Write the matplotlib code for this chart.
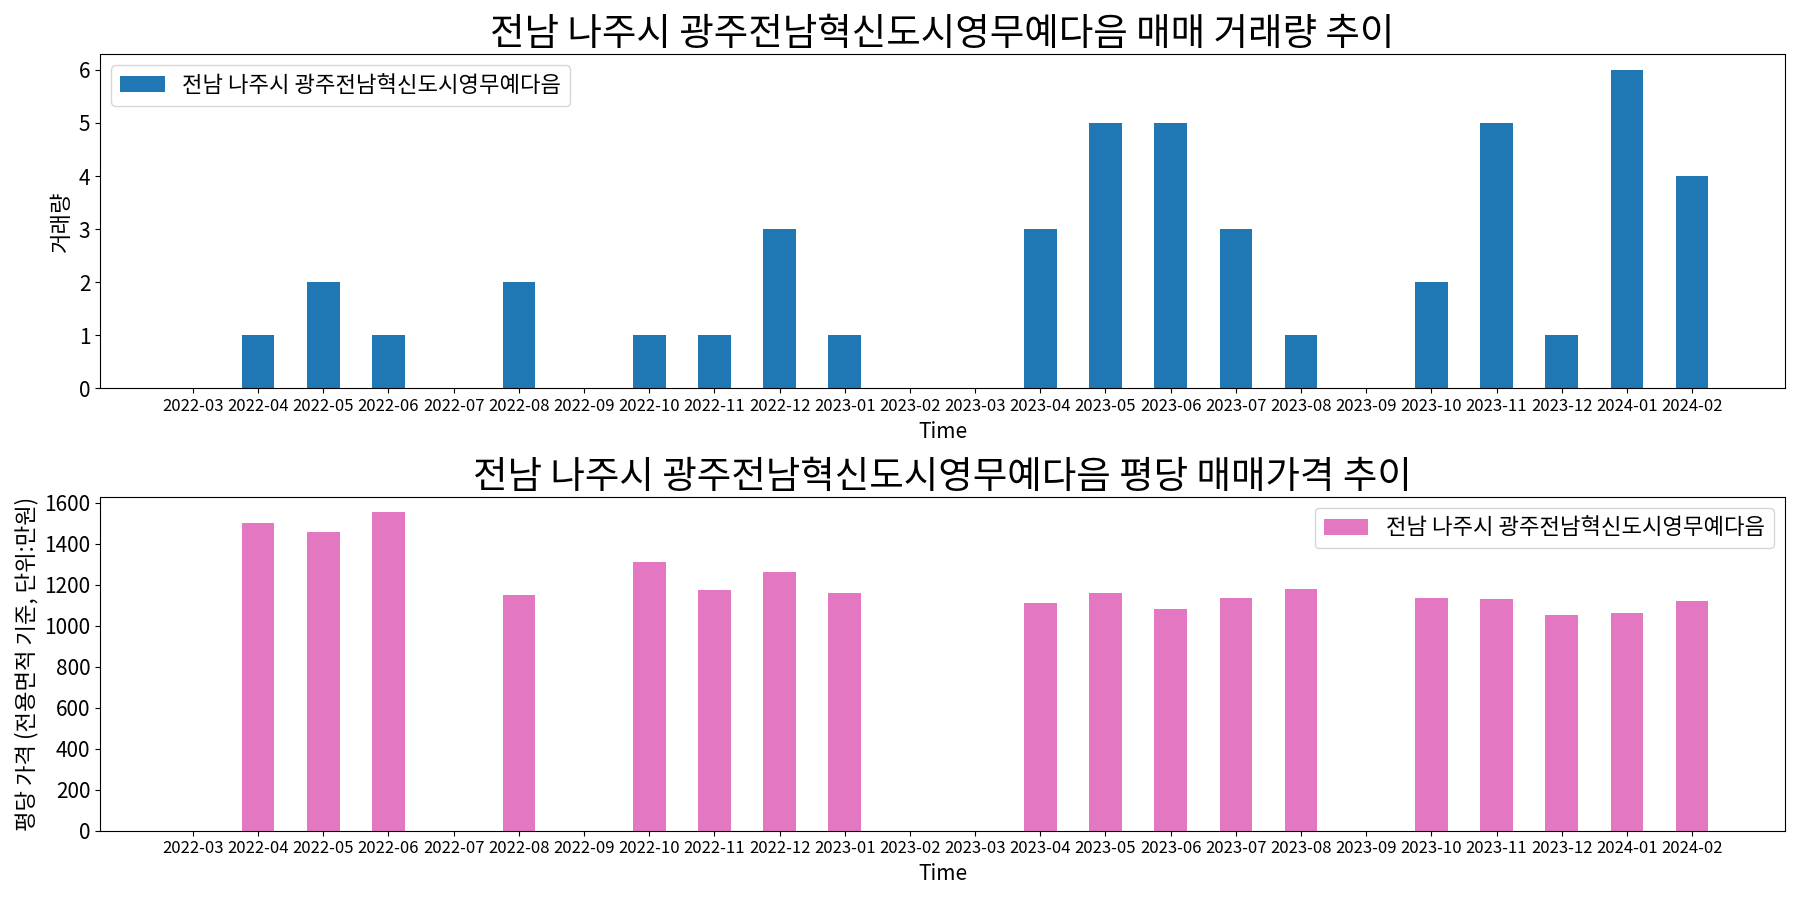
import matplotlib
matplotlib.use("Agg")
import matplotlib.pyplot as plt
from matplotlib.ticker import MultipleLocator
import numpy as np

plt.rcParams['font.family'] = ['Noto Sans CJK KR', 'DejaVu Sans']

months = ["2022-03", "2022-04", "2022-05", "2022-06", "2022-07", "2022-08", "2022-09",
          "2022-10", "2022-11", "2022-12", "2023-01", "2023-02", "2023-03", "2023-04",
          "2023-05", "2023-06", "2023-07", "2023-08", "2023-09", "2023-10", "2023-11",
          "2023-12", "2024-01", "2024-02"]
volume = [0, 1, 2, 1, 0, 2, 0, 1, 1, 3, 1, 0, 0, 3, 5, 5, 3, 1, 0, 2, 5, 1, 6, 4]
price = [0, 1500, 1455, 1552, 0, 1147, 0, 1311, 1176, 1263, 1161, 0, 0, 1108,
         1161, 1080, 1137, 1181, 0, 1137, 1128, 1051, 1060, 1118]

name = "전남 나주시 광주전남혁신도시영무예다음"

fig, (ax1, ax2) = plt.subplots(2, 1, figsize=(18, 9), dpi=100)
x = np.arange(len(months))

ax1.bar(x, volume, width=0.5, color='#1f77b4', label=name)
ax1.set_title(f"{name} 매매 거래량 추이", fontsize=27)
ax1.set_ylabel("거래량", fontsize=16)
ax1.set_xlabel("Time", fontsize=15)
ax1.set_xticks(x)
ax1.set_xticklabels(months, fontsize=12)
ax1.tick_params(axis='y', labelsize=15)
ax1.legend(loc='upper left', fontsize=16)

ax2.bar(x, price, width=0.5, color='#e377c2', label=name)
ax2.set_title(f"{name} 평당 매매가격 추이", fontsize=27)
ax2.set_ylabel("평당 가격 (전용면적 기준, 단위:만원)", fontsize=16)
ax2.set_xlabel("Time", fontsize=15)
ax2.set_xticks(x)
ax2.set_xticklabels(months, fontsize=12)
ax2.yaxis.set_major_locator(MultipleLocator(200))
ax2.tick_params(axis='y', labelsize=15)
ax2.legend(loc='upper right', fontsize=16)

fig.tight_layout()
fig.savefig("out.png", dpi=100)
